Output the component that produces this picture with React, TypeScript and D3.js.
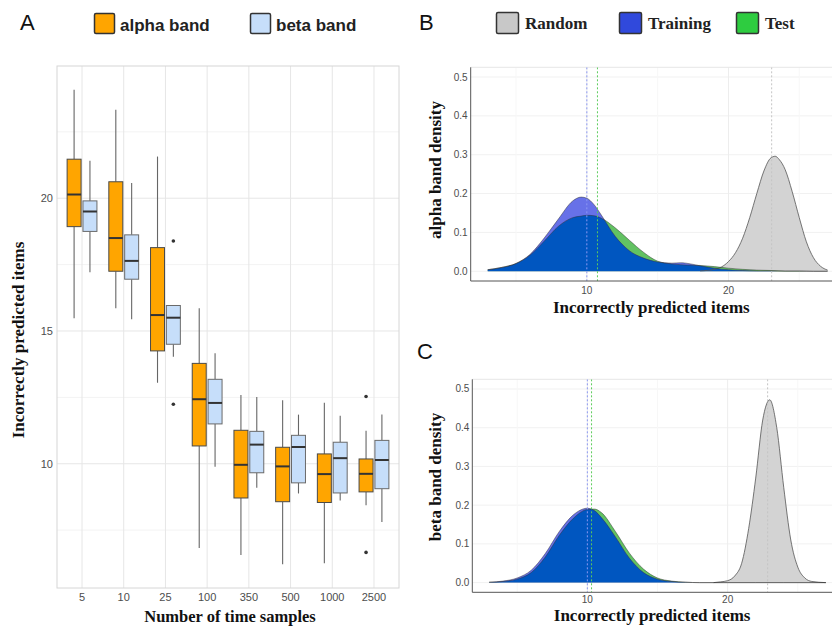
import React from 'react';
import * as d3 from 'd3';

// ---------- Panel A data ----------
const categories = ['5', '10', '25', '100', '350', '500', '1000', '2500'];
const alphaLow = [15.48, 15.86, 13.05, 6.83, 6.56, 6.21, 6.25, 8.44];
const alphaQ1 = [18.93, 17.25, 14.25, 10.67, 8.71, 8.57, 8.54, 8.94];
const alphaMedian = [20.14, 18.5, 15.6, 12.43, 9.96, 9.9, 9.61, 9.62];
const alphaQ3 = [21.47, 20.62, 18.14, 13.78, 11.26, 10.62, 10.37, 10.18];
const alphaHigh = [24.09, 23.33, 21.57, 15.86, 12.59, 12.39, 12.3, 11.24];
const betaLow = [17.21, 15.44, 14.03, 9.89, 9.1, 8.88, 8.62, 7.81];
const betaQ1 = [18.75, 16.95, 14.5, 11.5, 9.66, 9.28, 8.9, 9.06];
const betaMedian = [19.5, 17.64, 15.5, 12.29, 10.72, 10.63, 10.21, 10.14];
const betaQ3 = [19.9, 18.62, 15.96, 13.18, 11.22, 11.07, 10.81, 10.88];
const betaHigh = [21.41, 20.57, 15.98, 14.16, 12.51, 11.85, 11.81, 11.85];
const alphaOutlierCats = ['2500', '2500'];
const alphaOutlierVals = [12.53, 6.66];
const betaOutlierCats = ['25', '25'];
const betaOutlierVals = [18.39, 12.24];
const yTicksA = [10, 15, 20];
const yMinorA = [7.5, 12.5, 17.5, 22.5];

// ---------- Panel B data (alpha band densities) ----------
const alphaGrid = [3, 4, 5, 6, 7, 8, 9, 9.6, 10, 10.5, 11, 12, 13, 14, 15, 16, 16.6, 17, 18, 19, 20, 21, 22, 23, 24, 25, 26, 27];
const alphaTraining = [0.004, 0.01, 0.02, 0.044, 0.086, 0.135, 0.181, 0.191, 0.188, 0.172, 0.146, 0.09, 0.053, 0.034, 0.024, 0.021, 0.022, 0.021, 0.014, 0.008, 0.004, 0.002, 0.001, 0.001, 0, 0, 0, 0];
const alphaTest = [0.004, 0.01, 0.02, 0.042, 0.078, 0.116, 0.138, 0.142, 0.144, 0.143, 0.137, 0.112, 0.08, 0.049, 0.026, 0.019, 0.017, 0.016, 0.015, 0.012, 0.008, 0.005, 0.003, 0.002, 0.001, 0.001, 0, 0];
const alphaRandomGrid = [18, 19, 19.5, 20, 20.5, 21, 21.5, 22, 22.5, 23, 23.3, 23.6, 24, 24.5, 25, 25.5, 26, 26.5, 27];
const alphaRandom = [0.001, 0.005, 0.011, 0.025, 0.048, 0.085, 0.138, 0.2, 0.258, 0.292, 0.296, 0.287, 0.262, 0.205, 0.138, 0.076, 0.035, 0.013, 0.003];
const alphaMeans = [10.0, 10.75, 23.05]; // training, test, random

// ---------- Panel C data (beta band densities) ----------
const betaGrid = [3, 4, 5, 6, 7, 8, 9, 10, 10.5, 11, 12, 13, 14, 15, 16, 17, 18, 20, 22, 24, 27];
const betaTraining = [0.001, 0.004, 0.012, 0.032, 0.075, 0.132, 0.175, 0.192, 0.186, 0.168, 0.118, 0.063, 0.026, 0.009, 0.003, 0.001, 0, 0, 0, 0, 0];
const betaTest = [0.001, 0.003, 0.009, 0.026, 0.066, 0.122, 0.166, 0.189, 0.19, 0.181, 0.132, 0.076, 0.035, 0.012, 0.004, 0.001, 0, 0, 0, 0, 0];
const betaRandomGrid = [19, 19.5, 20, 20.5, 21, 21.5, 22, 22.5, 23, 23.5, 24, 24.5, 25, 25.5, 26, 27];
const betaRandom = [0, 0.002, 0.005, 0.017, 0.05, 0.14, 0.27, 0.42, 0.472, 0.4, 0.245, 0.11, 0.04, 0.012, 0.003, 0];
const betaMeans = [10.0, 10.3, 22.85];

const densTicksY = [0, 0.1, 0.2, 0.3, 0.4, 0.5];
const densTicksX = [10, 20];
const densMinorX = [5, 15, 25];

const SERIF = '"Liberation Serif", "Times New Roman", serif';
const SANS = '"Liberation Sans", Arial, Helvetica, sans-serif';
const TICK = '#4d4d4d';

const ORANGE = '#FFA500';
const LIGHTBLUE = '#C6DEFA';
const C_RANDOM = '#d3d3d3';
const C_TRAIN = '#6771e8';
const C_TEST = '#62c262';
const C_OVER = '#0056c0';

function PanelA() {
  const left = 57, right = 399, top = 66, bottom = 588;
  const x = d3.scalePoint<string>().domain(categories).range([left, right]).padding(0.6);
  const y = d3.scaleLinear().domain([5.32, 24.98]).range([bottom, top]);
  const step = x.step();
  const off = step * 0.19;
  const bw = step * 0.335;
  const boxes = (which: 'alpha' | 'beta') => {
    const lo = which === 'alpha' ? alphaLow : betaLow;
    const q1 = which === 'alpha' ? alphaQ1 : betaQ1;
    const md = which === 'alpha' ? alphaMedian : betaMedian;
    const q3 = which === 'alpha' ? alphaQ3 : betaQ3;
    const hi = which === 'alpha' ? alphaHigh : betaHigh;
    const fill = which === 'alpha' ? ORANGE : LIGHTBLUE;
    const stroke = which === 'alpha' ? '#4a4a4a' : '#6a6a6a';
    const dx = which === 'alpha' ? -off : off;
    return categories.map((c, i) => {
      const cx = (x(c) as number) + dx;
      return (
        <g key={which + c}>
          <line x1={cx} x2={cx} y1={y(hi[i])} y2={y(q3[i])} stroke="#666" strokeWidth={1.1} />
          <line x1={cx} x2={cx} y1={y(q1[i])} y2={y(lo[i])} stroke="#666" strokeWidth={1.1} />
          <rect x={cx - bw / 2} y={y(q3[i])} width={bw} height={y(q1[i]) - y(q3[i])} fill={fill} stroke={stroke} strokeWidth={1} />
          <line x1={cx - bw / 2} x2={cx + bw / 2} y1={y(md[i])} y2={y(md[i])} stroke="#333" strokeWidth={2} />
        </g>
      );
    });
  };
  return (
    <g>
      <text x={20} y={30} fontFamily={SANS} fontSize={22} fill="#111">A</text>
      {/* legend */}
      <rect x={94.5} y={13.5} width={20} height={20} rx={1.5} fill={ORANGE} stroke="#333" strokeWidth={1.5} />
      <text x={120} y={31} fontFamily={SANS} fontWeight="bold" fontSize={17} fill="#222">alpha band</text>
      <rect x={250.5} y={13.5} width={20} height={20} rx={1.5} fill={LIGHTBLUE} stroke="#333" strokeWidth={1.5} />
      <text x={276} y={31} fontFamily={SANS} fontWeight="bold" fontSize={17} fill="#222">beta band</text>
      {/* grid */}
      {yMinorA.map((v) => (
        <line key={'mn' + v} x1={left} x2={right} y1={y(v)} y2={y(v)} stroke="#f3f3f3" strokeWidth={1} />
      ))}
      {yTicksA.map((v) => (
        <line key={'mj' + v} x1={left} x2={right} y1={y(v)} y2={y(v)} stroke="#e6e6e6" strokeWidth={1} />
      ))}
      {categories.map((c) => (
        <line key={'vx' + c} x1={x(c)} x2={x(c)} y1={top} y2={bottom} stroke="#e6e6e6" strokeWidth={1} />
      ))}
      <rect x={left} y={top} width={right - left} height={bottom - top} fill="none" stroke="#d6d6d6" strokeWidth={1} />
      {boxes('alpha')}
      {boxes('beta')}
      {alphaOutlierVals.map((v, i) => (
        <circle key={'ao' + i} cx={(x(alphaOutlierCats[i]) as number) - off} cy={y(v)} r={1.8} fill="#333" />
      ))}
      {betaOutlierVals.map((v, i) => (
        <circle key={'bo' + i} cx={(x(betaOutlierCats[i]) as number) + off} cy={y(v)} r={1.8} fill="#333" />
      ))}
      {yTicksA.map((v) => (
        <text key={'yt' + v} x={53} y={y(v) + 4} textAnchor="end" fontFamily={SANS} fontSize={11} fill={TICK}>{v}</text>
      ))}
      {categories.map((c) => (
        <text key={'xt' + c} x={x(c)} y={601} textAnchor="middle" fontFamily={SANS} fontSize={11} fill={TICK}>{c}</text>
      ))}
      <text x={230} y={622} textAnchor="middle" fontFamily={SERIF} fontWeight="bold" fontSize={16.5} fill="#111">Number of time samples</text>
      <text transform={`translate(24,340) rotate(-90)`} textAnchor="middle" fontFamily={SERIF} fontWeight="bold" fontSize={17} fill="#111">Incorrectly predicted items</text>
    </g>
  );
}

type DensProps = {
  id: string;
  left: number; right: number; top: number; bottom: number;
  grid: number[]; training: number[]; test: number[];
  rGrid: number[]; random: number[]; means: number[];
  yTitle: string; yTitleCenter: number; titleY: number; tickY: number;
};

function DensityPanel(p: DensProps) {
  const x = d3.scaleLinear().domain([1.8, 28.2]).range([p.left, p.right]);
  const y = d3.scaleLinear().domain([-0.025, 0.525]).range([p.bottom, p.top]);
  const area = (xs: number[], ys: number[]) =>
    d3.area<number>()
      .x((_, i) => x(xs[i]))
      .y0(y(0))
      .y1((d) => y(d))
      .curve(d3.curveMonotoneX)(ys) as string;
  const line = (xs: number[], ys: number[]) =>
    d3.line<number>()
      .x((_, i) => x(xs[i]))
      .y((d) => y(d))
      .curve(d3.curveMonotoneX)(ys) as string;
  const trainArea = area(p.grid, p.training);
  const testArea = area(p.grid, p.test);
  const randArea = area(p.rGrid, p.random);
  const meanColors = ['#8c98f2', '#5ccc5c', '#c4c4c4'];
  const clipId = 'clip-' + p.id;
  const plotClip = 'plot-' + p.id;
  return (
    <g>
      <defs>
        <clipPath id={clipId}><path d={testArea} /></clipPath>
        <clipPath id={plotClip}><rect x={p.left} y={p.top} width={832 - p.left} height={p.bottom - p.top} /></clipPath>
      </defs>
      {/* grid */}
      {densTicksY.map((v) => (
        <line key={'gy' + v} x1={p.left} x2={832} y1={y(v)} y2={y(v)} stroke="#f1f1f1" strokeWidth={1} />
      ))}
      {densMinorX.map((v) => (
        <line key={'gmx' + v} x1={x(v)} x2={x(v)} y1={p.top} y2={p.bottom} stroke="#f7f7f7" strokeWidth={1} />
      ))}
      {densTicksX.map((v) => (
        <line key={'gx' + v} x1={x(v)} x2={x(v)} y1={p.top} y2={p.bottom} stroke="#ededed" strokeWidth={1} />
      ))}
      <line x1={p.left} x2={832} y1={p.top} y2={p.top} stroke="#e6e6e6" strokeWidth={1} />
      <g clipPath={`url(#${plotClip})`}>
        <path d={randArea} fill={C_RANDOM} stroke="none" />
        <path d={testArea} fill={C_TEST} stroke="none" />
        <path d={trainArea} fill={C_TRAIN} stroke="none" />
        <path d={trainArea} fill={C_OVER} stroke="none" clipPath={`url(#${clipId})`} />
        <path d={line(p.rGrid, p.random)} fill="none" stroke="#555" strokeWidth={0.8} />
        <path d={line(p.grid, p.test)} fill="none" stroke="#333" strokeWidth={0.6} strokeOpacity={0.8} />
        <path d={line(p.grid, p.training)} fill="none" stroke="#333" strokeWidth={0.6} strokeOpacity={0.8} />
        {p.means.map((m, i) => (
          <line key={'m' + i} x1={x(m)} x2={x(m)} y1={p.top} y2={p.bottom} stroke={meanColors[i]} strokeWidth={1} strokeDasharray="2,2" />
        ))}
      </g>
      {/* axes */}
      <line x1={p.left} x2={p.left} y1={p.top} y2={p.bottom} stroke="#555" strokeWidth={1} />
      <line x1={p.left} x2={832} y1={p.bottom} y2={p.bottom} stroke="#555" strokeWidth={1} />
      {densTicksY.map((v) => (
        <text key={'ty' + v} x={p.left - 3} y={y(v) + 3.5} textAnchor="end" fontFamily={SANS} fontSize={10} fill={TICK}>{v.toFixed(1)}</text>
      ))}
      {densTicksX.map((v) => (
        <text key={'tx' + v} x={x(v)} y={p.tickY} textAnchor="middle" fontFamily={SANS} fontSize={10} fill={TICK}>{v}</text>
      ))}
      <text x={(p.left + 832) / 2 + 0} y={p.titleY} textAnchor="middle" fontFamily={SERIF} fontWeight="bold" fontSize={17} fill="#111">Incorrectly predicted items</text>
      <text transform={`translate(441,${p.yTitleCenter}) rotate(-90)`} textAnchor="middle" fontFamily={SERIF} fontWeight="bold" fontSize={17} fill="#111">{p.yTitle}</text>
    </g>
  );
}

function LegendB() {
  const items = [
    { label: 'Random', color: '#c8c8c8', x: 496.5, tx: 525 },
    { label: 'Training', color: '#3049dc', x: 619.5, tx: 648 },
    { label: 'Test', color: '#2ecc40', x: 736.5, tx: 765 },
  ];
  return (
    <g>
      <text x={419} y={30} fontFamily={SANS} fontSize={22} fill="#111">B</text>
      {items.map((it) => (
        <g key={it.label}>
          <rect x={it.x} y={12.5} width={22} height={21} rx={1.5} fill={it.color} stroke="#333" strokeWidth={1.5} />
          <text x={it.tx} y={29} fontFamily={SERIF} fontWeight="bold" fontSize={17} fill="#222">{it.label}</text>
        </g>
      ))}
      <text x={417} y={359} fontFamily={SANS} fontSize={22} fill="#111">C</text>
    </g>
  );
}

export default function App() {
  return (
    <div style={{ position: 'absolute', left: 0, top: 0, width: 832, height: 628, background: '#fff' }}>
      <svg width={832} height={628} viewBox="0 0 832 628" style={{ display: 'block' }}>
        <rect x={0} y={0} width={832} height={628} fill="#fff" />
        <PanelA />
        <LegendB />
        <DensityPanel
          id="b" left={470.7} right={844.6} top={67.3} bottom={281}
          grid={alphaGrid} training={alphaTraining} test={alphaTest}
          rGrid={alphaRandomGrid} random={alphaRandom} means={alphaMeans}
          yTitle="alpha band density" yTitleCenter={170} titleY={313} tickY={294}
        />
        <DensityPanel
          id="c" left={472.3} right={842.7} top={379.3} bottom={592.3}
          grid={betaGrid} training={betaTraining} test={betaTest}
          rGrid={betaRandomGrid} random={betaRandom} means={betaMeans}
          yTitle="beta band density" yTitleCenter={477} titleY={621} tickY={603}
        />
      </svg>
    </div>
  );
}
